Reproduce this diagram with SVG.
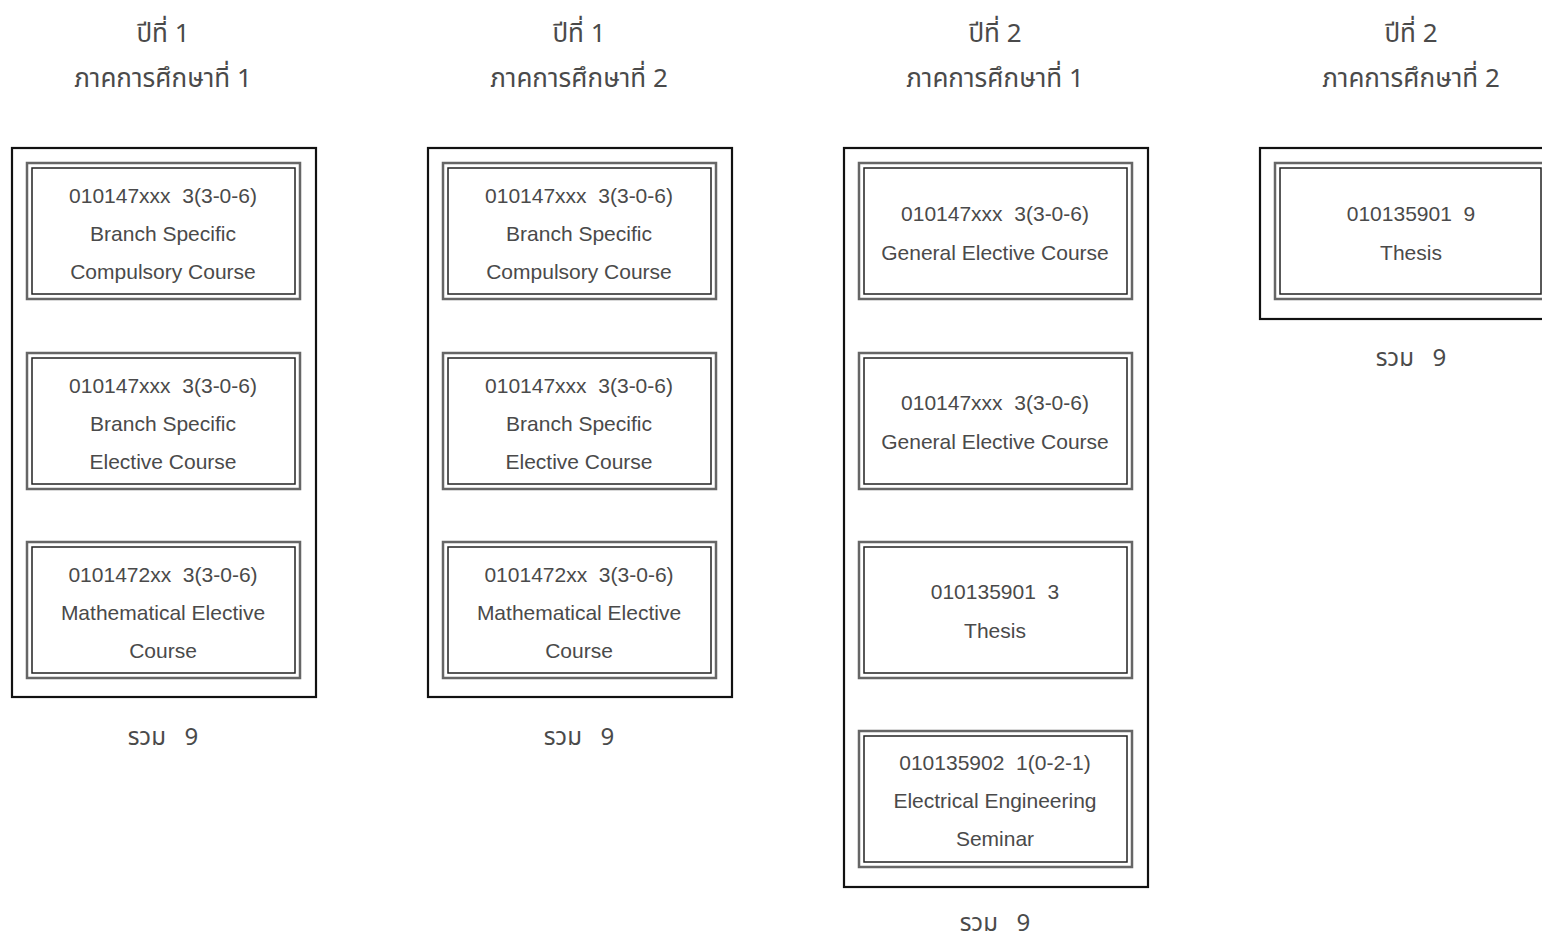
<svg xmlns="http://www.w3.org/2000/svg" width="1542" height="939" viewBox="0 0 1542 939">
<style>
.bg{fill:#fff}
.outer{fill:none;stroke:#111;stroke-width:2.2}
.d1{fill:none;stroke:#666;stroke-width:2.5}
.d2{fill:none;stroke:#222;stroke-width:1.5}
text{font-family:"Noto Sans Thai","Noto Sans","DejaVu Sans","Liberation Sans",sans-serif;fill:#4a4a4a;text-anchor:middle;white-space:pre}
.b{font-family:"Liberation Sans",Arial,sans-serif;font-size:21px}
.h{font-size:26px}
.s{font-size:24px}
</style>
<rect class="bg" x="0" y="0" width="1542" height="939"/>
<g id="col1">
<text class="h" x="163" y="42">ปีที่ 1</text>
<text class="h" x="163" y="87">ภาคการศึกษาที่ 1</text>
<rect class="outer" x="12" y="148" width="304" height="549"/>
<text class="s" x="163" y="745">รวม   9</text>
</g>
<g id="c1n1">
<rect class="d1" x="27" y="163" width="273" height="136"/>
<rect class="d2" x="32" y="168" width="263" height="126"/>
<text class="b" x="163" y="203">010147xxx  3(3-0-6)</text>
<text class="b" x="163" y="241">Branch Specific</text>
<text class="b" x="163" y="279">Compulsory Course</text>
</g>
<g id="c1n2">
<rect class="d1" x="27" y="353" width="273" height="136"/>
<rect class="d2" x="32" y="358" width="263" height="126"/>
<text class="b" x="163" y="393">010147xxx  3(3-0-6)</text>
<text class="b" x="163" y="431">Branch Specific</text>
<text class="b" x="163" y="469">Elective Course</text>
</g>
<g id="c1n3">
<rect class="d1" x="27" y="542" width="273" height="136"/>
<rect class="d2" x="32" y="547" width="263" height="126"/>
<text class="b" x="163" y="582">0101472xx  3(3-0-6)</text>
<text class="b" x="163" y="620">Mathematical Elective</text>
<text class="b" x="163" y="658">Course</text>
</g>
<g id="col2">
<text class="h" x="579" y="42">ปีที่ 1</text>
<text class="h" x="579" y="87">ภาคการศึกษาที่ 2</text>
<rect class="outer" x="428" y="148" width="304" height="549"/>
<text class="s" x="579" y="745">รวม   9</text>
</g>
<g id="c2n1">
<rect class="d1" x="443" y="163" width="273" height="136"/>
<rect class="d2" x="448" y="168" width="263" height="126"/>
<text class="b" x="579" y="203">010147xxx  3(3-0-6)</text>
<text class="b" x="579" y="241">Branch Specific</text>
<text class="b" x="579" y="279">Compulsory Course</text>
</g>
<g id="c2n2">
<rect class="d1" x="443" y="353" width="273" height="136"/>
<rect class="d2" x="448" y="358" width="263" height="126"/>
<text class="b" x="579" y="393">010147xxx  3(3-0-6)</text>
<text class="b" x="579" y="431">Branch Specific</text>
<text class="b" x="579" y="469">Elective Course</text>
</g>
<g id="c2n3">
<rect class="d1" x="443" y="542" width="273" height="136"/>
<rect class="d2" x="448" y="547" width="263" height="126"/>
<text class="b" x="579" y="582">0101472xx  3(3-0-6)</text>
<text class="b" x="579" y="620">Mathematical Elective</text>
<text class="b" x="579" y="658">Course</text>
</g>
<g id="col3">
<text class="h" x="995" y="42">ปีที่ 2</text>
<text class="h" x="995" y="87">ภาคการศึกษาที่ 1</text>
<rect class="outer" x="844" y="148" width="304" height="739"/>
<text class="s" x="995" y="931">รวม   9</text>
</g>
<g id="c3n1">
<rect class="d1" x="859" y="163" width="273" height="136"/>
<rect class="d2" x="864" y="168" width="263" height="126"/>
<text class="b" x="995" y="221">010147xxx  3(3-0-6)</text>
<text class="b" x="995" y="260">General Elective Course</text>
</g>
<g id="c3n2">
<rect class="d1" x="859" y="353" width="273" height="136"/>
<rect class="d2" x="864" y="358" width="263" height="126"/>
<text class="b" x="995" y="410">010147xxx  3(3-0-6)</text>
<text class="b" x="995" y="449">General Elective Course</text>
</g>
<g id="c3n3">
<rect class="d1" x="859" y="542" width="273" height="136"/>
<rect class="d2" x="864" y="547" width="263" height="126"/>
<text class="b" x="995" y="599">010135901  3</text>
<text class="b" x="995" y="638">Thesis</text>
</g>
<g id="c3n4">
<rect class="d1" x="859" y="731" width="273" height="136"/>
<rect class="d2" x="864" y="736" width="263" height="126"/>
<text class="b" x="995" y="770">010135902  1(0-2-1)</text>
<text class="b" x="995" y="808">Electrical Engineering</text>
<text class="b" x="995" y="846">Seminar</text>
</g>
<g id="col4">
<text class="h" x="1411" y="42">ปีที่ 2</text>
<text class="h" x="1411" y="87">ภาคการศึกษาที่ 2</text>
<rect class="outer" x="1260" y="148" width="304" height="171"/>
<text class="s" x="1411" y="366">รวม   9</text>
</g>
<g id="c4n1">
<rect class="d1" x="1275" y="163" width="273" height="136"/>
<rect class="d2" x="1280" y="168" width="261" height="126"/>
<text class="b" x="1411" y="221">010135901  9</text>
<text class="b" x="1411" y="260">Thesis</text>
</g>
<g id="connectors"></g>
</svg>
